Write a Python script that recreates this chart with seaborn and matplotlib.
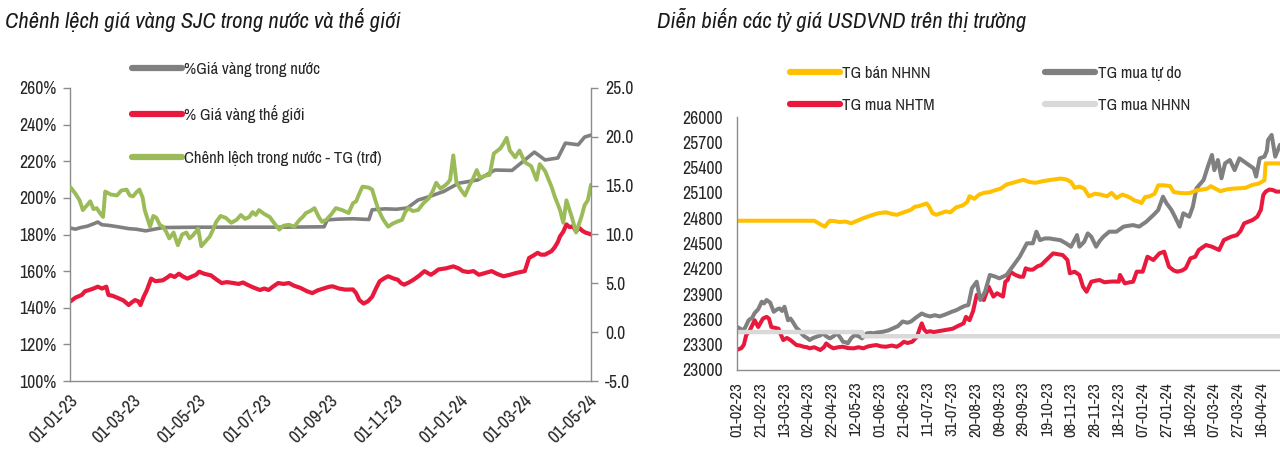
import numpy as np
import pandas as pd
import matplotlib
matplotlib.use("Agg")
import matplotlib.pyplot as plt
from matplotlib.lines import Line2D
from matplotlib import font_manager as fm
import seaborn as sns

# ---------------- DATA: left chart (days since 2023-01-01) ----------------
left_start = "2023-01-01"
dom_days = [0, 5, 10, 16, 22, 26, 30, 36, 45, 55, 62, 71, 80, 87, 120, 160, 200, 238, 241, 252, 265, 280, 283, 295,
            306, 316, 326, 336, 350, 364, 382, 398, 414, 426, 435, 445, 457, 464, 476, 482, 488]
dom_pct = [183.6, 182.9, 183.8, 184.5, 185.8, 186.8, 185.3, 185.0, 184.2, 183.2, 182.9, 182.0, 183.0, 183.8, 184.0,
           184.0, 184.0, 184.2, 188.0, 188.4, 188.6, 188.2, 193.5, 194.0, 193.8, 194.5, 198.8, 200.6, 203.5, 208.0,
           209.8, 215.2, 215.0, 220.7, 225.0, 220.7, 221.8, 229.9, 229.0, 233.2, 234.3]

world_days = [0, 5, 11, 14, 17, 22, 26, 30, 34, 36, 40, 45, 50, 55, 58, 61, 64, 66, 69, 72, 76, 80, 87, 91, 94, 98,
              102, 106, 110, 114, 118, 121, 126, 132, 137, 142, 147, 153, 158, 162, 166, 172, 178, 182, 186, 190,
              195, 200, 205, 210, 216, 222, 227, 232, 239, 243, 246, 252, 258, 265, 268, 271, 275, 279, 283, 287,
              290, 294, 298, 303, 307, 310, 313, 318, 322, 327, 332, 335, 338, 342, 345, 352, 359, 364, 368, 373,
              378, 383, 389, 395, 400, 406, 412, 418, 422, 426, 430, 434, 438, 441, 445, 448, 451, 454, 457, 459,
              462, 465, 468, 471, 474, 477, 480, 483, 486, 488]
world_pct = [143.3, 145.5, 147.0, 149.0, 149.5, 150.5, 151.5, 150.5, 151.5, 147.0, 146.5, 145.3, 144.0, 141.5,
             143.0, 144.2, 143.5, 141.5, 146.0, 149.6, 155.9, 154.5, 155.0, 156.5, 157.8, 156.8, 158.6, 157.0,
             155.9, 157.0, 158.0, 159.7, 158.5, 157.7, 155.5, 153.5, 154.0, 153.5, 153.0, 153.8, 152.6, 151.0,
             149.7, 150.5, 149.7, 151.5, 153.5, 153.0, 153.5, 152.0, 150.8, 149.0, 148.0, 149.5, 150.8, 151.5,
             151.7, 150.5, 149.9, 150.0, 148.0, 144.2, 142.3, 143.5, 146.0, 151.0, 154.4, 156.0, 157.2, 156.0,
             155.3, 153.5, 152.6, 154.0, 155.4, 157.5, 160.0, 159.0, 158.0, 159.5, 160.9, 161.5, 162.6, 161.5,
             160.0, 159.5, 160.0, 158.0, 159.0, 160.0, 158.5, 157.2, 158.0, 159.0, 159.5, 160.0, 167.2, 168.5,
             170.0, 169.0, 169.0, 170.0, 170.9, 173.0, 176.0, 179.0, 181.5, 185.5, 184.0, 184.5, 181.8, 183.6,
             182.0, 181.0, 180.5, 180.0]

gap_days = [0, 5, 9, 12, 16, 19, 22, 25, 28, 31, 33, 38, 44, 48, 53, 56, 59, 62, 65, 68, 70, 73, 75, 78, 81, 84,
            87, 90, 93, 97, 101, 105, 109, 112, 115, 118, 120, 123, 127, 131, 134, 137, 141, 146, 151, 156, 160,
            164, 168, 171, 174, 177, 182, 187, 191, 196, 200, 205, 210, 215, 218, 221, 225, 229, 233, 236, 240,
            245, 249, 255, 261, 265, 268, 271, 274, 280, 283, 286, 289, 293, 298, 302, 306, 311, 314, 317, 321,
            326, 331, 336, 340, 343, 347, 351, 354, 356, 359, 362, 366, 370, 374, 377, 381, 384, 388, 393, 397,
            403, 406, 409, 412, 417, 421, 426, 432, 437, 440, 445, 451, 454, 459, 462, 465, 470, 474, 479, 482,
            485, 488]
gap_trd = [14.9, 14.2, 13.5, 12.5, 13.0, 13.4, 12.6, 12.7, 12.2, 11.8, 14.4, 14.1, 14.0, 14.5, 14.6, 14.0, 13.9,
           14.3, 14.6, 13.8, 12.5, 11.5, 10.8, 11.9, 11.7, 11.0, 10.8, 10.3, 9.6, 10.2, 8.9, 10.0, 10.2, 9.6, 9.9,
           10.3, 10.6, 8.8, 9.3, 9.8, 10.5, 11.3, 11.9, 11.7, 11.2, 11.5, 12.0, 11.6, 11.8, 12.3, 12.0, 12.5, 12.1,
           11.8, 11.2, 10.5, 10.9, 11.0, 10.8, 11.5, 11.8, 12.2, 12.4, 12.7, 11.8, 11.3, 11.5, 12.1, 12.7, 12.5,
           12.2, 13.2, 13.4, 14.2, 14.9, 14.8, 14.6, 13.5, 12.5, 11.6, 10.8, 11.1, 11.3, 11.5, 12.3, 12.7, 12.4,
           12.5, 13.2, 13.7, 14.5, 15.3, 14.7, 15.0, 15.3, 15.6, 18.1, 15.3, 14.6, 14.0, 15.0, 15.6, 16.6, 15.8,
           16.0, 16.1, 18.3, 18.8, 19.3, 19.9, 18.6, 17.9, 18.6, 17.4, 17.0, 15.6, 17.2, 16.5, 14.9, 13.9, 12.5,
           11.2, 13.5, 11.8, 10.2, 11.8, 13.0, 13.5, 15.1]

left_pct_ticks = [100, 120, 140, 160, 180, 200, 220, 240, 260]
left_trd_ticks = [-5.0, 0.0, 5.0, 10.0, 15.0, 20.0, 25.0]
left_date_ticks = ["2023-01-01", "2023-03-01", "2023-05-01", "2023-07-01", "2023-09-01",
                   "2023-11-01", "2024-01-01", "2024-03-01", "2024-05-01"]

# ---------------- DATA: right chart (days since 2023-02-01) ----------------
right_start = "2023-02-01"
sbv_sell_days = [0, 65, 68, 71, 74, 76, 78, 82, 86, 91, 96, 101, 106, 110, 114, 119, 125, 130, 134, 138, 142, 146,
                 149, 153, 156, 159, 161, 164, 167, 171, 175, 179, 184, 189, 193, 195, 199, 203, 207, 212, 216, 221,
                 226, 230, 235, 240, 245, 250, 255, 261, 266, 271, 276, 280, 283, 287, 291, 295, 300, 305, 310, 314,
                 318, 323, 327, 330, 333, 336, 339, 342, 346, 350, 353, 358, 363, 366, 371, 376, 380, 385, 390, 394,
                 397, 401, 405, 410, 415, 421, 426, 432, 437, 442, 443, 455]
sbv_sell = [24770, 24770, 24745, 24720, 24700, 24740, 24770, 24765, 24755, 24760, 24740, 24770, 24800, 24820, 24840,
            24860, 24870, 24850, 24840, 24860, 24880, 24900, 24935, 24945, 24960, 24975, 24940, 24860, 24840, 24860,
            24880, 24870, 24930, 24950, 24990, 25060, 25030, 25080, 25100, 25110, 25130, 25150, 25200, 25215, 25235,
            25255, 25230, 25220, 25235, 25250, 25260, 25270, 25260, 25230, 25160, 25175, 25150, 25060, 25090, 25080,
            25060, 25100, 25040, 25080, 25060, 25040, 25010, 25000, 24980, 25050, 25060, 25090, 25190, 25190, 25180,
            25110, 25100, 25095, 25100, 25130, 25140, 25150, 25180, 25150, 25120, 25140, 25150, 25155, 25160, 25195,
            25210, 25250, 25450, 25450]

free_buy_days = [0, 3, 5, 7, 10, 13, 15, 18, 21, 23, 25, 28, 31, 34, 36, 38, 40, 43, 45, 47, 50, 52, 55, 57, 59, 61,
                 64, 67, 70, 72, 75, 78, 81, 84, 87, 89, 91, 93, 96, 99, 102, 105, 109, 112, 114, 118, 123, 127, 131,
                 135, 139, 143, 146, 150, 155, 158, 162, 166, 170, 175, 180, 184, 188, 191, 194, 197, 201, 204, 208,
                 212, 216, 220, 226, 232, 237, 243, 248, 251, 254, 258, 262, 266, 271, 276, 280, 285, 287, 291, 294,
                 297, 301, 304, 307, 312, 318, 324, 328, 332, 337, 343, 349, 353, 357, 360, 364, 367, 371, 374, 379,
                 382, 385, 391, 395, 398, 400, 403, 406, 409, 413, 417, 421, 427, 433, 435, 438, 442, 444, 445, 448,
                 451, 455]
free_buy = [23513, 23490, 23470, 23500, 23590, 23620, 23675, 23720, 23810, 23790, 23830, 23800, 23690, 23720, 23730,
            23700, 23750, 23590, 23610, 23570, 23500, 23475, 23420, 23395, 23380, 23355, 23380, 23395, 23410, 23435,
            23400, 23375, 23400, 23435, 23380, 23335, 23330, 23315, 23380, 23415, 23400, 23375, 23435, 23440, 23435,
            23445, 23455, 23470, 23495, 23520, 23575, 23560, 23575, 23620, 23670, 23650, 23635, 23650, 23635, 23660,
            23690, 23710, 23740, 23760, 23770, 23970, 24047, 23830, 23930, 24127, 24110, 24087, 24127, 24245, 24343,
            24502, 24502, 24640, 24540, 24560, 24560, 24550, 24540, 24500, 24462, 24600, 24462, 24520, 24620, 24580,
            24462, 24530, 24580, 24640, 24640, 24700, 24710, 24718, 24700, 24758, 24838, 24897, 25055, 24976, 24900,
            24818, 24700, 24858, 24818, 24937, 25154, 25253, 25430, 25550, 25370, 25490, 25273, 25450, 25490, 25370,
            25510, 25450, 25390, 25293, 25510, 25530, 25600, 25727, 25787, 25530, 25670]

bank_buy_days = [0, 4, 6, 8, 11, 13, 15, 18, 20, 22, 25, 27, 29, 32, 35, 37, 39, 42, 45, 48, 50, 53, 56, 59, 61, 65,
                 70, 73, 75, 78, 81, 85, 89, 93, 98, 102, 106, 110, 114, 117, 121, 125, 130, 134, 137, 140, 143, 147,
                 151, 153, 155, 157, 159, 162, 165, 169, 173, 177, 181, 185, 190, 192, 195, 198, 201, 204, 207, 211,
                 215, 218, 223, 225, 227, 229, 233, 237, 240, 242, 245, 248, 252, 255, 259, 262, 265, 270, 273, 277,
                 279, 283, 287, 290, 293, 297, 301, 304, 308, 312, 316, 320, 321, 325, 329, 332, 335, 340, 344, 349,
                 354, 358, 362, 366, 369, 373, 376, 380, 384, 387, 393, 398, 404, 408, 414, 419, 422, 425, 432, 436,
                 439, 441, 443, 446, 449, 452, 455]
bank_buy = [23237, 23260, 23300, 23415, 23470, 23530, 23590, 23510, 23560, 23610, 23630, 23610, 23510, 23500, 23490,
            23420, 23355, 23380, 23355, 23320, 23296, 23290, 23276, 23270, 23257, 23270, 23237, 23270, 23315, 23280,
            23257, 23270, 23276, 23260, 23257, 23270, 23257, 23280, 23290, 23296, 23280, 23276, 23290, 23276, 23300,
            23335, 23320, 23335, 23395, 23480, 23553, 23480, 23450, 23460, 23450, 23460, 23470, 23480, 23490, 23520,
            23553, 23630, 23590, 23700, 23890, 23860, 23830, 23988, 23870, 23910, 23870, 24047, 24067, 24166, 24130,
            24106, 24106, 24206, 24190, 24190, 24230, 24245, 24300, 24340, 24383, 24370, 24363, 24304, 24147, 24166,
            24127, 23988, 23928, 24047, 24060, 24067, 24040, 24047, 24050, 24047, 24127, 24027, 24040, 24047, 24166,
            24166, 24343, 24304, 24383, 24403, 24225, 24180, 24166, 24180, 24206, 24324, 24343, 24423, 24482, 24462,
            24423, 24541, 24580, 24600, 24650, 24739, 24778, 24818, 24900, 25075, 25115, 25140, 25134, 25115, 25115]

sbv_buy_days = [0, 105, 106, 455]
sbv_buy = [23450, 23450, 23400, 23400]

right_y_ticks = [23000, 23300, 23600, 23900, 24200, 24500, 24800, 25100, 25400, 25700, 26000]
right_tick_step_days = 20
right_tick_count = 23
right_end_day = 455

# ---------------- STYLE ----------------
sns.set_style("white")
names = {f.name for f in fm.fontManager.ttflist}
narrow = next((n for n in ["Liberation Sans Narrow", "Arial Narrow", "Archivo Narrow", "Roboto Condensed",
                           "PT Sans Narrow", "Barlow Semi Condensed", "Liberation Sans"] if n in names),
              "DejaVu Sans")
fam = [narrow, "Liberation Sans", "DejaVu Sans"]
plt.rcParams["font.family"] = fam

C_GRAY = "#808080"
C_RED = "#E8193C"
C_GREEN = "#9BBB59"
C_YEL = "#FFC000"
C_LGRAY = "#D9D9D9"
C_SPINE = "#8C8C8C"
C_TXT = "#262626"
FS = 12
FS_Y = 12.8
FS_X = 12
FS_XL = 13.2
FS_T = 16.3
LW = 2.6

fig = plt.figure(figsize=(12.8, 4.53), dpi=100)

# ---------------- LEFT CHART ----------------
ax = fig.add_axes([70 / 1280, 1 - 381 / 453, (591 - 70) / 1280, (381 - 88) / 453])
t0 = pd.Timestamp(left_start)
df_dom = pd.DataFrame({"date": t0 + pd.to_timedelta(dom_days, unit="D"), "v": dom_pct})
df_wld = pd.DataFrame({"date": t0 + pd.to_timedelta(world_days, unit="D"), "v": world_pct})
df_gap = pd.DataFrame({"date": t0 + pd.to_timedelta(gap_days, unit="D"), "v": gap_trd})

sns.lineplot(data=df_dom, x="date", y="v", ax=ax, color=C_GRAY, lw=LW, legend=False)
sns.lineplot(data=df_wld, x="date", y="v", ax=ax, color=C_RED, lw=LW + 0.4, legend=False)
ax2 = ax.twinx()
sns.lineplot(data=df_gap, x="date", y="v", ax=ax2, color=C_GREEN, lw=LW + 0.2, legend=False)

ax.set_xlim(t0, t0 + pd.Timedelta(days=488))
ax.set_ylim(100, 260)
ax2.set_ylim(-5, 25)
ax.set_yticks(left_pct_ticks)
ax.set_yticklabels([f"{v}%" for v in left_pct_ticks])
ax2.set_yticks(left_trd_ticks)
ax2.set_yticklabels([f"{v:.1f}" for v in left_trd_ticks])
ax.set_xticks(pd.to_datetime(left_date_ticks))
ax.set_xticklabels([pd.Timestamp(d).strftime("%d-%m-%y") for d in left_date_ticks],
                   rotation=45, ha="right", rotation_mode="anchor")
for a in (ax, ax2):
    a.set_xlabel("")
    a.set_ylabel("")
    for s in a.spines.values():
        s.set_color(C_SPINE)
        s.set_linewidth(1.0)
    a.spines["top"].set_visible(False)
    a.tick_params(colors=C_TXT, length=5, width=1.0, direction="out")
    a.tick_params(axis="both", color=C_SPINE)
    a.tick_params(axis="y", labelsize=FS_Y, pad=5)
    a.tick_params(axis="x", labelsize=FS_XL)
ax.spines["right"].set_visible(False)
ax2.spines["left"].set_visible(False)
ax2.spines["bottom"].set_visible(False)
ax.tick_params(axis="x", pad=3)

fig.text(5 / 1280, 1 - 20 / 453, "Chênh lệch giá vàng SJC trong nước và thế giới", fontsize=FS_T,
         style="italic", color="#1a1a1a", va="center", ha="left", family=fam)

lh = [Line2D([], [], color=C_GRAY, lw=4.5), Line2D([], [], color=C_RED, lw=4.5),
      Line2D([], [], color=C_GREEN, lw=4.5)]
fig.legend(lh, ["%Giá vàng trong nước", "% Giá vàng thế giới", "Chênh lệch trong nước - TG (trđ)"],
           loc="upper left", bbox_to_anchor=(132 / 1280, 1 - 62 / 453), frameon=False, fontsize=FS,
           handlelength=3.0, handletextpad=0.15, labelspacing=1.68, borderpad=0, borderaxespad=0,
           labelcolor=C_TXT)

# ---------------- RIGHT CHART ----------------
bx = fig.add_axes([736.7 / 1280, 1 - 370 / 453, (1280 - 736.7) / 1280, (370 - 117) / 453])
r0 = pd.Timestamp(right_start)
df_ss = pd.DataFrame({"date": r0 + pd.to_timedelta(sbv_sell_days, unit="D"), "v": sbv_sell})
df_fb = pd.DataFrame({"date": r0 + pd.to_timedelta(free_buy_days, unit="D"), "v": free_buy})
df_bb = pd.DataFrame({"date": r0 + pd.to_timedelta(bank_buy_days, unit="D"), "v": bank_buy})
df_sb = pd.DataFrame({"date": r0 + pd.to_timedelta(sbv_buy_days, unit="D"), "v": sbv_buy})

sns.lineplot(data=df_bb, x="date", y="v", ax=bx, color=C_RED, lw=LW + 0.3, legend=False)
sns.lineplot(data=df_fb, x="date", y="v", ax=bx, color=C_GRAY, lw=LW + 0.3, legend=False)
sns.lineplot(data=df_sb, x="date", y="v", ax=bx, color=C_LGRAY, lw=LW + 0.6, legend=False)
sns.lineplot(data=df_ss, x="date", y="v", ax=bx, color=C_YEL, lw=LW + 0.3, legend=False)

bx.set_xlim(r0, r0 + pd.Timedelta(days=right_end_day))
bx.set_ylim(23000, 26000)
bx.set_yticks(right_y_ticks)
bx.set_yticklabels([str(v) for v in right_y_ticks])
rt = [r0 + pd.Timedelta(days=right_tick_step_days * i) for i in range(right_tick_count)]
bx.set_xticks(rt)
bx.set_xticklabels([d.strftime("%d-%m-%y") for d in rt], rotation=90, ha="center", va="top")
bx.set_xlabel("")
bx.set_ylabel("")
for k, s in bx.spines.items():
    s.set_color(C_SPINE)
    s.set_linewidth(1.0)
bx.spines["top"].set_visible(False)
bx.spines["right"].set_visible(False)
bx.tick_params(colors=C_TXT, length=5, width=1.0, direction="out")
bx.tick_params(axis="both", color=C_SPINE)
bx.tick_params(axis="y", labelsize=FS_Y, pad=5)
bx.tick_params(axis="x", labelsize=FS_X)

fig.text(657 / 1280, 1 - 20 / 453, "Diễn biến các tỷ giá USDVND trên thị trường", fontsize=FS_T,
         style="italic", color="#1a1a1a", va="center", ha="left", family=fam)

legkw = dict(loc="upper left", frameon=False, fontsize=FS, handlelength=3.0, handletextpad=0.15,
             labelspacing=1.0, borderpad=0, borderaxespad=0, labelcolor=C_TXT)
rh1 = [Line2D([], [], color=C_YEL, lw=4.5), Line2D([], [], color=C_RED, lw=4.5)]
rh2 = [Line2D([], [], color=C_GRAY, lw=4.5), Line2D([], [], color=C_LGRAY, lw=4.5)]
fig.legend(rh1, ["TG bán NHNN", "TG mua NHTM"], bbox_to_anchor=(790 / 1280, 1 - 66 / 453), **legkw)
fig.legend(rh2, ["TG mua tự do", "TG mua NHNN"], bbox_to_anchor=(1045 / 1280, 1 - 66 / 453), **legkw)

fig.savefig("out.png", dpi=100)
